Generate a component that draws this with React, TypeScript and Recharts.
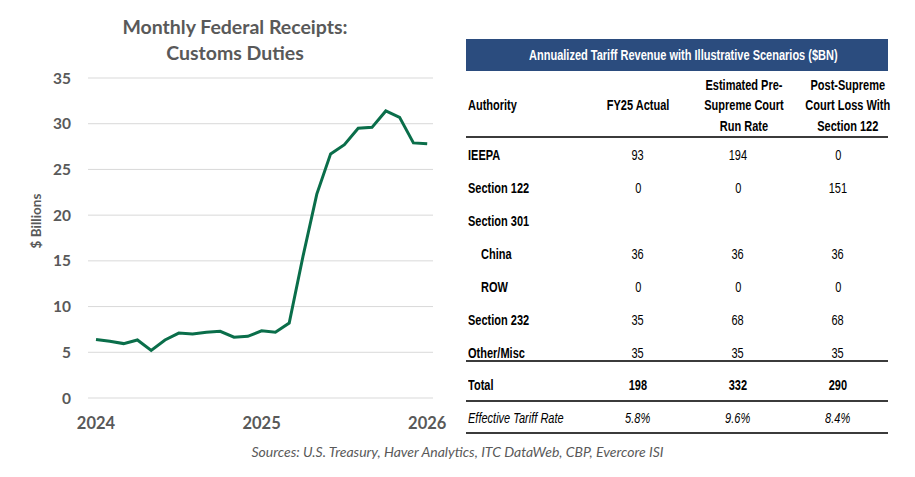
import React from 'react';
import { LineChart, Line, XAxis, YAxis, CartesianGrid } from 'recharts';

// monthly customs duties, $ billions, Jan 2024 .. Jan 2026
const months = [
  '2024-01', '2024-02', '2024-03', '2024-04', '2024-05', '2024-06', '2024-07', '2024-08',
  '2024-09', '2024-10', '2024-11', '2024-12', '2025-01', '2025-02', '2025-03', '2025-04',
  '2025-05', '2025-06', '2025-07', '2025-08', '2025-09', '2025-10', '2025-11', '2025-12',
  '2026-01',
];
const receipts = [
  6.4, 6.2, 5.95, 6.35, 5.2, 6.35, 7.1, 7.0, 7.2, 7.3, 6.65, 6.75,
  7.35, 7.2, 8.2, 15.5, 22.3, 26.7, 27.7, 29.5, 29.6, 31.4, 30.7, 27.9,
  27.8,
];
const yearTicks = [0, 12, 24];
const yearLabels = ['2024', '2025', '2026'];
const yTicks = [0, 5, 10, 15, 20, 25, 30, 35];

// table
const tableTitle = 'Annualized Tariff Revenue with Illustrative Scenarios ($BN)';
const columns = ['Authority', 'FY25 Actual', 'Estimated Pre-\nSupreme Court\nRun Rate', 'Post-Supreme\nCourt Loss With\nSection 122'];
const rows = [
  { label: 'IEEPA', indent: false, values: ['93', '194', '0'] },
  { label: 'Section 122', indent: false, values: ['0', '0', '151'] },
  { label: 'Section 301', indent: false, values: ['', '', ''] },
  { label: 'China', indent: true, values: ['36', '36', '36'] },
  { label: 'ROW', indent: true, values: ['0', '0', '0'] },
  { label: 'Section 232', indent: false, values: ['35', '68', '68'] },
  { label: 'Other/Misc', indent: false, values: ['35', '35', '35'] },
];
const totalRow = { label: 'Total', values: ['198', '332', '290'] };
const rateRow = { label: 'Effective Tariff Rate', values: ['5.8%', '9.6%', '8.4%'] };

const sources = 'Sources: U.S. Treasury, Haver Analytics, ITC DataWeb, CBP, Evercore ISI';

const GRAY = '#595959';
const GREEN = '#0a6e4a';
const NAVY = '#2b4c7e';
const RULE = '2px solid #3b3b3b';
const ARIAL = '"Liberation Sans", Arial, sans-serif';
const SANS = 'Lato, "Open Sans", sans-serif';
const NARROW_SCALE = 0.71; // no Arial Narrow installed, squeeze Liberation Sans instead

const data = months.map((m, i) => ({ t: i, month: m, value: receipts[i] }));

const colWidths = [122, 100, 100, 100];

function Narrow({ children, origin }: any) {
  return (
    <span style={{ display: 'inline-block', transform: `scaleX(${NARROW_SCALE})`, transformOrigin: origin || 'center', whiteSpace: 'pre' }}>
      {children}
    </span>
  );
}

function Row({ label, values, height, lineHeight, bold, italic, indent, border, padTop }: any) {
  return (
    <div style={{ display: 'flex', height, borderBottom: border ? RULE : undefined, paddingTop: padTop || 0, boxSizing: 'border-box' }}>
      <div style={{ width: colWidths[0], lineHeight: lineHeight + 'px', paddingLeft: indent ? 15 : 2, fontWeight: italic ? 400 : 700, fontStyle: italic ? 'italic' : 'normal', boxSizing: 'border-box', whiteSpace: 'nowrap' }}>
        <Narrow origin="left">{label}</Narrow>
      </div>
      {values.map((v: string, i: number) => (
        <div key={i} style={{ width: colWidths[i + 1], textAlign: 'center', lineHeight: lineHeight + 'px', fontWeight: bold ? 700 : 400, fontStyle: italic ? 'italic' : 'normal' }}>
          <Narrow>{v}</Narrow>
        </div>
      ))}
    </div>
  );
}

export default function App() {
  return (
    <div style={{ position: 'absolute', left: 0, top: 0, width: 915, height: 477, background: '#fff', overflow: 'hidden' }}>
      {/* chart title */}
      <div style={{ position: 'absolute', left: 35, width: 400, top: 14, textAlign: 'center', fontFamily: SANS, fontWeight: 700, fontSize: 19.5, lineHeight: '26px', color: GRAY }}>
        Monthly Federal Receipts:<br />Customs Duties
      </div>

      <div style={{ position: 'absolute', left: 0, top: 0 }}>
        <LineChart width={450} height={440} data={data} margin={{ top: 78, right: 17, bottom: 0, left: 28 }}>
          <CartesianGrid vertical={false} stroke="#d9d9d9" strokeWidth={1} />
          <XAxis
            dataKey="t"
            type="number"
            domain={[-0.58, 24.42]}
            ticks={yearTicks}
            tickFormatter={(v: number) => yearLabels[yearTicks.indexOf(v)]}
            axisLine={false}
            tickLine={false}
            tickSize={0}
            tickMargin={19}
            height={42}
            tick={{ fill: GRAY, fontSize: 16.5, fontWeight: 700, fontFamily: SANS }}
          />
          <YAxis
            domain={[0, 35]}
            ticks={yTicks}
            axisLine={false}
            tickLine={false}
            tickSize={0}
            tickMargin={17}
            width={60}
            tick={{ fill: GRAY, fontSize: 15.5, fontWeight: 700, fontFamily: SANS }}
            label={{
              content: () => (
                <text x={41} y={221} transform="rotate(-90 41 221)" textAnchor="middle" fill={GRAY} fontSize={13.5} fontWeight={700} fontFamily={SANS}>
                  $ Billions
                </text>
              ),
            }}
          />
          <Line type="linear" dataKey="value" stroke={GREEN} strokeWidth={3} dot={false} isAnimationActive={false} />
        </LineChart>
      </div>

      {/* table */}
      <div style={{ position: 'absolute', left: 466, top: 39, width: 422, fontFamily: ARIAL, fontSize: 15.5, color: '#000' }}>
        <div style={{ height: 32, background: NAVY, color: '#fff', fontWeight: 700, textAlign: 'center', lineHeight: '32px' }}>
          <Narrow>{tableTitle}</Narrow>
        </div>
        <div style={{ display: 'flex', height: 67, borderBottom: RULE, boxSizing: 'border-box', fontWeight: 700, alignItems: 'center', paddingTop: 4 }}>
          {columns.map((c, i) => (
            <div key={i} style={{ width: colWidths[i], textAlign: i === 0 ? 'left' : 'center', paddingLeft: i === 0 ? 2 : 0, lineHeight: '20.5px', boxSizing: 'border-box' }}>
              <Narrow origin={i === 0 ? 'left' : 'center'}>{c}</Narrow>
            </div>
          ))}
        </div>
        {rows.map((r, i) => (
          <Row
            key={r.label}
            label={r.label}
            values={r.values}
            indent={r.indent}
            height={i === rows.length - 1 ? 26 : 33}
            lineHeight={33}
            border={i === rows.length - 1}
          />
        ))}
        <Row label={totalRow.label} values={totalRow.values} height={40} lineHeight={36} bold border padTop={5} />
        <Row label={rateRow.label} values={rateRow.values} height={32} lineHeight={32} italic border />
      </div>

      {/* sources */}
      <div style={{ position: 'absolute', left: 0, width: 915, top: 443, textAlign: 'center', fontFamily: SANS, fontStyle: 'italic', fontSize: 14, color: GRAY }}>
        {sources}
      </div>
    </div>
  );
}
